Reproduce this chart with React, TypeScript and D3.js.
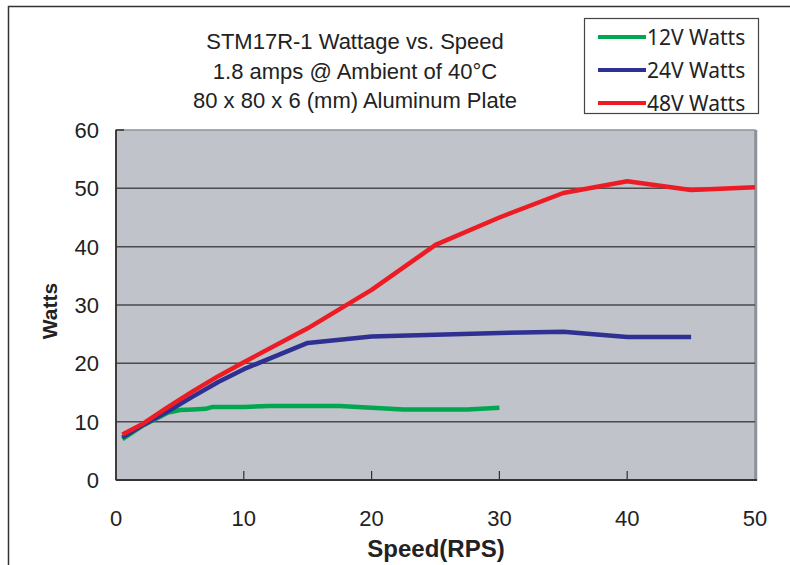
import React from "react";
import * as d3 from "d3";

const titleLines = [
  "STM17R-1 Wattage vs. Speed",
  "1.8 amps @ Ambient of 40°C",
  "80 x 80 x 6 (mm) Aluminum Plate",
];
const xTicks = [0, 10, 20, 30, 40, 50];
const yTicks = [0, 10, 20, 30, 40, 50, 60];

const speed12 = [0.5, 2, 4, 5, 6, 7, 7.5, 10, 12, 15, 17.5, 20, 22.5, 25, 27.5, 30];
const watts12 = [7.0, 9.2, 11.5, 12.0, 12.1, 12.2, 12.5, 12.5, 12.7, 12.7, 12.7, 12.4, 12.1, 12.1, 12.1, 12.4];

const speed24 = [0.5, 2, 4, 6, 8, 10, 15, 20, 25, 30, 35, 40, 45];
const watts24 = [7.3, 9.3, 11.7, 14.3, 16.8, 19.0, 23.5, 24.6, 24.9, 25.2, 25.4, 24.5, 24.5];

const speed48 = [0.5, 2, 4, 6, 8, 10, 15, 20, 25, 30, 35, 40, 45, 50];
const watts48 = [7.8, 9.5, 12.4, 15.2, 17.8, 20.2, 26.0, 32.6, 40.3, 45.0, 49.2, 51.2, 49.7, 50.2];

const seriesNames = ["12V Watts", "24V Watts", "48V Watts"];
const seriesColors = ["#00a650", "#2e3192", "#ed1c24"];

export default function App() {
  const W = 790, H = 565;
  const left = 116, right = 755, top = 130, bottom = 480;
  const x = d3.scaleLinear().domain([0, 50]).range([left, right]);
  const y = d3.scaleLinear().domain([0, 60]).range([bottom, top]);
  const line = d3.line<[number, number]>().x(d => x(d[0])).y(d => y(d[1]));
  const series: [number[], number[]][] = [
    [speed12, watts12],
    [speed24, watts24],
    [speed48, watts48],
  ];
  const sans = "'Liberation Sans', Arial, sans-serif";
  const human = "'Noto Sans', 'Open Sans', sans-serif";
  return (
    <svg width={W} height={H} style={{ position: "absolute", left: 0, top: 0 }}>
      <rect x={0} y={0} width={W} height={H} fill="#fff" />
      <rect x={8.5} y={6.5} width={900} height={700} fill="none" stroke="#333" strokeWidth={1.5} />
      {titleLines.map((t, i) => (
        <text key={i} x={355} y={49 + i * 29.5} textAnchor="middle" fontFamily={sans} fontSize={22} fill="#222">
          {t}
        </text>
      ))}
      <rect x={x(0)} y={y(60)} width={x(50) - x(0)} height={y(0) - y(60)} fill="#c0c3ca" stroke="#8e939a" strokeWidth={1.5} />
      <line x1={x(50) + 1} x2={x(50) + 1} y1={y(60)} y2={y(0) + 1} stroke="#8e939a" strokeWidth={2.5} />
      {yTicks.filter(v => v > 0 && v < 60).map(v => (
        <line key={v} x1={x(0)} x2={x(50)} y1={y(v)} y2={y(v)} stroke="#4a4a4f" strokeWidth={1.5} />
      ))}
      {xTicks.filter(v => v > 0 && v < 50).map(v => (
        <line key={v} x1={x(v)} x2={x(v)} y1={y(0)} y2={y(0) - 9} stroke="#333" strokeWidth={1.2} />
      ))}
      <line x1={x(0)} x2={x(0) + 8} y1={y(60)} y2={y(60)} stroke="#333" strokeWidth={1.5} />
      <line x1={x(0)} x2={x(0)} y1={y(60)} y2={y(0)} stroke="#333" strokeWidth={1.8} />
      <line x1={x(0)} x2={x(50) + 2} y1={y(0)} y2={y(0)} stroke="#333" strokeWidth={1.8} />
      {series.map(([xs, ys], i) => (
        <path
          key={i}
          d={line(xs.map((v, j) => [v, ys[j]] as [number, number])) || ""}
          fill="none"
          stroke={seriesColors[i]}
          strokeWidth={4.5}
          strokeLinejoin="round"
        />
      ))}
      {yTicks.map(v => (
        <text key={v} x={99} y={y(v) + 8} textAnchor="end" fontFamily={sans} fontSize={22} fill="#222">
          {v}
        </text>
      ))}
      {xTicks.map(v => (
        <text key={v} x={x(v)} y={526} textAnchor="middle" fontFamily={sans} fontSize={22} fill="#222">
          {v}
        </text>
      ))}
      <text x={436} y={557} textAnchor="middle" fontFamily={sans} fontWeight="bold" fontSize={24} fill="#222">
        Speed(RPS)
      </text>
      <text
        transform={`translate(57,311) rotate(-90)`}
        textAnchor="middle"
        fontFamily={sans}
        fontWeight="bold"
        fontSize={21}
        fill="#222"
      >
        Watts
      </text>
      <rect x={584.5} y={18.5} width={174} height={95} fill="#fff" stroke="#444" strokeWidth={1.2} />
      {seriesNames.map((n, i) => (
        <g key={n}>
          <line x1={598} x2={646} y1={37 + i * 33} y2={37 + i * 33} stroke={seriesColors[i]} strokeWidth={4} />
          <text x={647} y={45 + i * 33} fontFamily={human} fontSize={21} fill="#222">
            {n}
          </text>
        </g>
      ))}
    </svg>
  );
}
